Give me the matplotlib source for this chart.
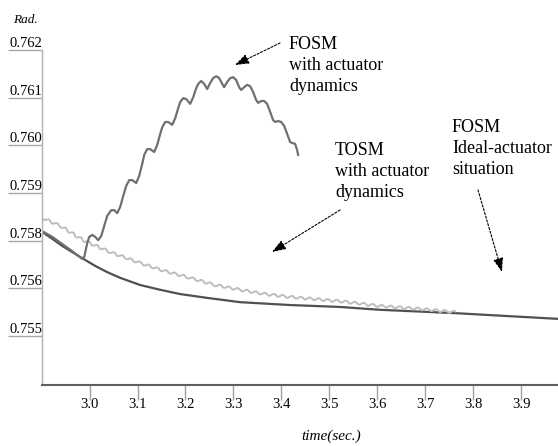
import numpy as np
import matplotlib
matplotlib.use("Agg")
import matplotlib.pyplot as plt

plt.rcParams["font.family"] = ["Liberation Serif", "DejaVu Serif"]

# FOSM with actuator dynamics (oscillating)
t_fosm_act = [2.9015, 2.9223, 2.9431, 2.9640, 2.9765, 2.9848, 2.9890, 2.9911, 2.9952, 2.9994,
              3.0056, 3.0119, 3.0181, 3.0244, 3.0306, 3.0369, 3.0452, 3.0515, 3.0577, 3.0640,
              3.0702, 3.0765, 3.0827, 3.0890, 3.0973, 3.1035, 3.1098, 3.1140, 3.1202, 3.1265,
              3.1348, 3.1411, 3.1473, 3.1515, 3.1577, 3.1640, 3.1723, 3.1786, 3.1848, 3.1890,
              3.1952, 3.2015, 3.2098, 3.2161, 3.2223, 3.2265, 3.2327, 3.2390, 3.2452, 3.2515,
              3.2577, 3.2640, 3.2702, 3.2765, 3.2806, 3.2869, 3.2931, 3.2994, 3.3056, 3.3119,
              3.3160, 3.3223, 3.3285, 3.3348, 3.3410, 3.3473, 3.3515, 3.3577, 3.3640, 3.3702,
              3.3765, 3.3827, 3.3869, 3.3931, 3.3994, 3.4056, 3.4119, 3.4181, 3.4223, 3.4286,
              3.4327, 3.4348]
v_fosm_act = [0.75820, 0.75808, 0.75793, 0.75778, 0.75768, 0.75762, 0.75766, 0.75776, 0.75795, 0.75808,
              0.75812, 0.75808, 0.75801, 0.75810, 0.75831, 0.75852, 0.75864, 0.75864, 0.75858, 0.75871,
              0.75894, 0.75915, 0.75927, 0.75927, 0.75921, 0.75936, 0.75961, 0.75980, 0.75992, 0.75992,
              0.75986, 0.76001, 0.76024, 0.76038, 0.76049, 0.76049, 0.76043, 0.76057, 0.76078, 0.76091,
              0.76099, 0.76097, 0.76087, 0.76101, 0.76120, 0.76129, 0.76135, 0.76129, 0.76118, 0.76131,
              0.76141, 0.76145, 0.76141, 0.76129, 0.76122, 0.76133, 0.76141, 0.76143, 0.76137, 0.76122,
              0.76116, 0.76122, 0.76127, 0.76124, 0.76112, 0.76095, 0.76089, 0.76093, 0.76093, 0.76087,
              0.76070, 0.76053, 0.76049, 0.76051, 0.76049, 0.76041, 0.76024, 0.76007, 0.76005, 0.76003,
              0.75990, 0.75980]

# TOSM with actuator dynamics (light gray, small ripple)
t_tosm_act = [2.9015, 2.9390, 2.9869, 3.0431, 3.1056, 3.1577, 3.2098, 3.2619,
              3.3140, 3.3660, 3.4181, 3.5223, 3.6056, 3.6890, 3.7619]
v_tosm_act = [0.75848, 0.75831, 0.75801, 0.75776, 0.75753, 0.75736, 0.75722, 0.75707,
              0.75697, 0.75688, 0.75682, 0.75673, 0.75663, 0.75657, 0.75650]

# FOSM ideal-actuator situation (dark, smooth)
t_fosm_ideal = [2.9015, 2.9223, 2.9431, 2.9640, 2.9869, 3.0119, 3.0369, 3.0640, 3.1056,
                3.1473, 3.1890, 3.2452, 3.3140, 3.4181, 3.5223, 3.6056, 3.7619, 3.9765]
v_fosm_ideal = [0.75818, 0.75804, 0.75789, 0.75776, 0.75762, 0.75747, 0.75734, 0.75722, 0.75707,
                0.75697, 0.75688, 0.75680, 0.75671, 0.75665, 0.75661, 0.75655, 0.75648, 0.75636]

x_ticks = [3.0, 3.1, 3.2, 3.3, 3.4, 3.5, 3.6, 3.7, 3.8, 3.9]
y_ticks = [0.762, 0.761, 0.760, 0.759, 0.758, 0.757, 0.756]
y_tick_labels = ['0.762', '0.761', '0.760', '0.759', '0.758', '0.756', '0.755']

fig = plt.figure(figsize=(5.58, 4.46), dpi=100)
ax = fig.add_axes([0.0758, 0.1368, 0.9242, 0.7511])

ax.plot(t_fosm_ideal, v_fosm_ideal, color='#505050', lw=1.6, solid_joinstyle='round')
light, = ax.plot(t_tosm_act, v_tosm_act, color='#bdbdbd', lw=1.4)
light.set_sketch_params(scale=1.2, length=9, randomness=1.0)
ax.plot(t_fosm_act, v_fosm_act, color='#707070', lw=1.6, solid_joinstyle='round')

ax.set_xlim(2.9015, 3.9765)
ax.set_ylim(0.754973, 0.762)

for side in ['top', 'right']:
    ax.spines[side].set_visible(False)
ax.spines['left'].set_color('#b0b0b0')
ax.spines['left'].set_linewidth(1.0)
ax.spines['bottom'].set_color('#606060')
ax.spines['bottom'].set_linewidth(1.5)

ax.set_xticks(x_ticks)
ax.set_xticklabels(['%.1f' % v for v in x_ticks])
ax.set_yticks(y_ticks)
ax.set_yticklabels(y_tick_labels)
ax.tick_params(axis='x', direction='out', length=11, width=1.0, color='#a0a0a0',
               pad=-1.5, labelsize=10.5)
ax.tick_params(axis='y', direction='out', length=24.5, width=1.0, color='#a8a8a8',
               pad=-24.5, labelsize=10.5)
for lab in ax.get_yticklabels():
    lab.set_verticalalignment('bottom')
    lab.set_horizontalalignment('right')

fig.text(13, 423, 'Rad.', transform=None, fontsize=9.5, style='italic')
fig.text(331, 6, 'time(sec.)', transform=None, fontsize=11, style='italic', ha='center')

txt_kw = dict(xycoords='figure pixels', fontsize=13, va='top', ha='left', linespacing=1.3)
ax.annotate('FOSM\nwith actuator\ndynamics', xy=(289, 410), **txt_kw)
ax.annotate('TOSM\nwith actuator\ndynamics', xy=(335, 304), **txt_kw)
ax.annotate('FOSM\nIdeal-actuator\nsituation', xy=(452, 327), **txt_kw)

arrow_kw = dict(arrowstyle='-|>,head_length=0.7,head_width=0.25', color='black',
                lw=0.8, linestyle=(0, (2, 1.5)), shrinkA=0, shrinkB=0, mutation_scale=12)
ax.annotate('', xy=(235, 381), xytext=(280, 403), xycoords='figure pixels',
            textcoords='figure pixels', arrowprops=arrow_kw)
ax.annotate('', xy=(272, 194), xytext=(340, 236), xycoords='figure pixels',
            textcoords='figure pixels', arrowprops=arrow_kw)
ax.annotate('', xy=(502, 174), xytext=(478, 256), xycoords='figure pixels',
            textcoords='figure pixels', arrowprops=arrow_kw)

fig.savefig('out.png', dpi=100)
